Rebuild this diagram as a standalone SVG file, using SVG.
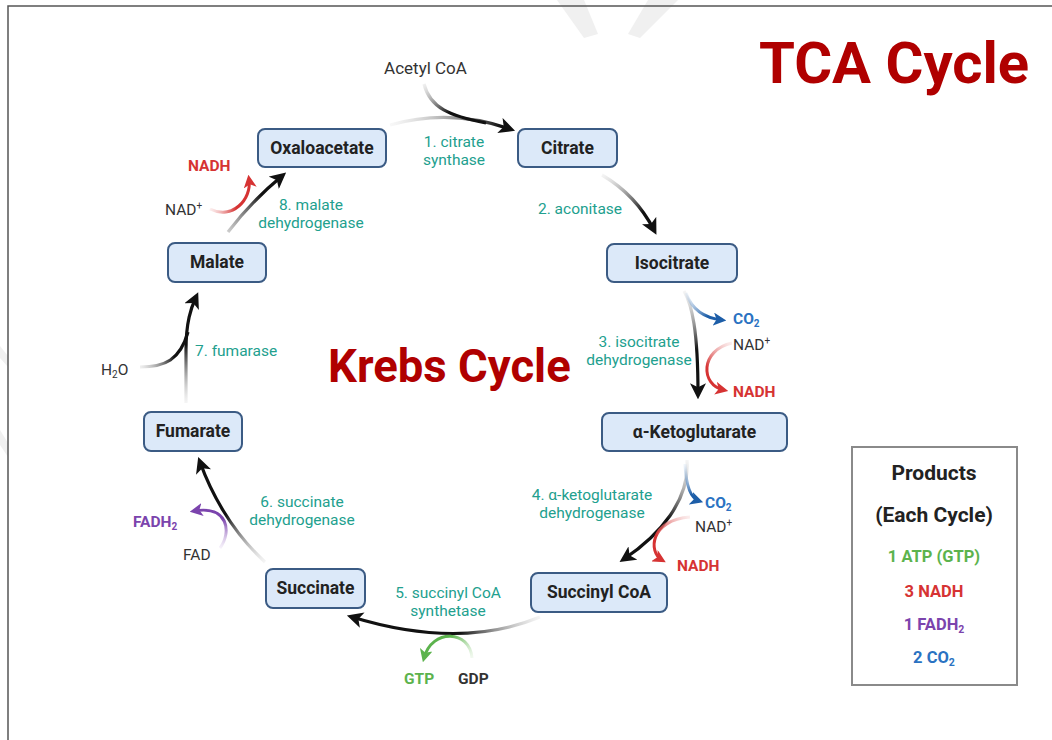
<svg xmlns="http://www.w3.org/2000/svg" width="1052" height="740" viewBox="0 0 1052 740">
<style>
text{font-family:Roboto,"Liberation Sans",sans-serif}
.node rect{fill:#dce9f9;stroke:#3b5b84;stroke-width:2}
.node text{font-size:17.5px;font-weight:bold;fill:#222;text-anchor:middle}
.enz{font-size:15.5px;fill:#22a08e;text-anchor:middle}
.enz.st{text-anchor:start}
.mol{font-size:15.5px;fill:#333}
.b{font-weight:bold}
.red{fill:#d63333}
.blue{fill:#2a72c2}
.green{fill:#5cb34d}
.purple{fill:#7b44ad}
.title{font-weight:bold;fill:#b00000}
.main{fill:none;stroke-width:3.2}
.side{fill:none;stroke-width:3}
.prod text{text-anchor:middle;font-weight:bold}
</style>
<defs>
<marker id="mk-k" markerUnits="userSpaceOnUse" viewBox="0 0 12 12" markerWidth="16" markerHeight="16" refX="8" refY="6" orient="auto"><path d="M0,0 L12,6 L0,12 L3,6 z" fill="#111"/></marker>
<marker id="mk-r" markerUnits="userSpaceOnUse" viewBox="0 0 12 12" markerWidth="13" markerHeight="13" refX="8" refY="6" orient="auto"><path d="M0,0 L12,6 L0,12 L3,6 z" fill="#d63333"/></marker>
<marker id="mk-b" markerUnits="userSpaceOnUse" viewBox="0 0 12 12" markerWidth="13" markerHeight="13" refX="8" refY="6" orient="auto"><path d="M0,0 L12,6 L0,12 L3,6 z" fill="#1d5ea8"/></marker>
<marker id="mk-g" markerUnits="userSpaceOnUse" viewBox="0 0 12 12" markerWidth="13" markerHeight="13" refX="8" refY="6" orient="auto"><path d="M0,0 L12,6 L0,12 L3,6 z" fill="#5cb34d"/></marker>
<marker id="mk-p" markerUnits="userSpaceOnUse" viewBox="0 0 12 12" markerWidth="13" markerHeight="13" refX="8" refY="6" orient="auto"><path d="M0,0 L12,6 L0,12 L3,6 z" fill="#7b44ad"/></marker>
<linearGradient id="g1" gradientUnits="userSpaceOnUse" x1="390" y1="125" x2="500" y2="128"><stop offset="0" stop-color="#ddd" stop-opacity="0.2"/><stop offset="1" stop-color="#111"/></linearGradient>
<linearGradient id="g1a" gradientUnits="userSpaceOnUse" x1="424" y1="84" x2="445" y2="115"><stop offset="0" stop-color="#ccc" stop-opacity="0.3"/><stop offset="1" stop-color="#111"/></linearGradient>
<linearGradient id="g2" gradientUnits="userSpaceOnUse" x1="602" y1="175" x2="640" y2="215"><stop offset="0" stop-color="#ddd" stop-opacity="0.3"/><stop offset="1" stop-color="#111"/></linearGradient>
<linearGradient id="g3" gradientUnits="userSpaceOnUse" x1="684" y1="291" x2="698" y2="350"><stop offset="0" stop-color="#ddd" stop-opacity="0.3"/><stop offset="1" stop-color="#111"/></linearGradient>
<linearGradient id="g3b" gradientUnits="userSpaceOnUse" x1="686" y1="293" x2="705" y2="318"><stop offset="0" stop-color="#cfe0f2" stop-opacity="0.3"/><stop offset="1" stop-color="#1d5ea8"/></linearGradient>
<linearGradient id="g3r" gradientUnits="userSpaceOnUse" x1="732" y1="343" x2="705" y2="365"><stop offset="0" stop-color="#f4c8c8" stop-opacity="0.3"/><stop offset="1" stop-color="#d63333"/></linearGradient>
<linearGradient id="g4" gradientUnits="userSpaceOnUse" x1="687" y1="460" x2="670" y2="520"><stop offset="0" stop-color="#ddd" stop-opacity="0.3"/><stop offset="1" stop-color="#111"/></linearGradient>
<linearGradient id="g4b" gradientUnits="userSpaceOnUse" x1="685" y1="464" x2="690" y2="495"><stop offset="0" stop-color="#cfe0f2" stop-opacity="0.3"/><stop offset="1" stop-color="#1d5ea8"/></linearGradient>
<linearGradient id="g4r" gradientUnits="userSpaceOnUse" x1="690" y1="517" x2="655" y2="535"><stop offset="0" stop-color="#f4c8c8" stop-opacity="0.3"/><stop offset="1" stop-color="#d63333"/></linearGradient>
<linearGradient id="g5" gradientUnits="userSpaceOnUse" x1="540" y1="617" x2="460" y2="632"><stop offset="0" stop-color="#ddd" stop-opacity="0.3"/><stop offset="1" stop-color="#111"/></linearGradient>
<linearGradient id="g5g" gradientUnits="userSpaceOnUse" x1="472" y1="658" x2="455" y2="633"><stop offset="0" stop-color="#d6eccf" stop-opacity="0.3"/><stop offset="1" stop-color="#5cb34d"/></linearGradient>
<linearGradient id="g6" gradientUnits="userSpaceOnUse" x1="265" y1="562" x2="225" y2="515"><stop offset="0" stop-color="#ddd" stop-opacity="0.3"/><stop offset="1" stop-color="#111"/></linearGradient>
<linearGradient id="g6p" gradientUnits="userSpaceOnUse" x1="220" y1="548" x2="228" y2="520"><stop offset="0" stop-color="#e2d3ef" stop-opacity="0.3"/><stop offset="1" stop-color="#7b44ad"/></linearGradient>
<linearGradient id="g7" gradientUnits="userSpaceOnUse" x1="186" y1="403" x2="186" y2="345"><stop offset="0" stop-color="#ddd" stop-opacity="0.3"/><stop offset="1" stop-color="#111"/></linearGradient>
<linearGradient id="g7h" gradientUnits="userSpaceOnUse" x1="140" y1="367" x2="175" y2="360"><stop offset="0" stop-color="#ccc" stop-opacity="0.3"/><stop offset="1" stop-color="#111"/></linearGradient>
<linearGradient id="g8" gradientUnits="userSpaceOnUse" x1="228" y1="232" x2="262" y2="195"><stop offset="0" stop-color="#999" stop-opacity="0.5"/><stop offset="1" stop-color="#111"/></linearGradient>
<linearGradient id="g8r" gradientUnits="userSpaceOnUse" x1="210" y1="209" x2="235" y2="214"><stop offset="0" stop-color="#f4c8c8" stop-opacity="0.3"/><stop offset="1" stop-color="#d63333"/></linearGradient>
</defs>
<rect x="0" y="0" width="1052" height="740" fill="#fff"/>
<g id="watermark" fill="#f0f0f0">
<polygon points="557,0 584,0 598,34 584,38"/>
<polygon points="648,0 678,0 640,38 628,34"/>
<polygon points="0,346 8,356 8,367 0,358"/>
<polygon points="0,430 8,443 8,457 0,445"/>
</g>
<g id="frame" stroke="#555" stroke-width="1.5" fill="none">
<path d="M8,740 L8,6 L1052,6"/>
</g>
<g id="titles">
<text class="title" x="759" y="83" font-size="58">TCA Cycle</text>
<text class="title" x="328" y="382" font-size="45.5">Krebs Cycle</text>
</g>
<g id="connectors">
<path class="main" stroke="url(#g1)" d="M390,125 Q450,108 510,129" marker-end="url(#mk-k)"/>
<path class="main" stroke="url(#g1a)" d="M424,84 C430,108 450,116 486,123"/>
<path class="main" stroke="url(#g2)" d="M602,175 Q636,195 654,230" marker-end="url(#mk-k)"/>
<path class="main" stroke="url(#g3)" d="M684,291 C692,305 698,330 698,394" marker-end="url(#mk-k)"/>
<path class="side" stroke="url(#g3b)" d="M686,293 C692,310 704,318 722,320" marker-end="url(#mk-b)"/>
<path class="side" stroke="url(#g3r)" d="M732,343 C700,350 700,385 724,390" marker-end="url(#mk-r)"/>
<path class="main" stroke="url(#g4)" d="M687,460 C690,500 660,535 624,559" marker-end="url(#mk-k)"/>
<path class="side" stroke="url(#g4b)" d="M685,464 C686,485 690,498 699,501" marker-end="url(#mk-b)"/>
<path class="side" stroke="url(#g4r)" d="M690,517 C650,520 648,552 662,560" marker-end="url(#mk-r)"/>
<path class="main" stroke="url(#g5)" d="M540,617 Q460,650 352,617" marker-end="url(#mk-k)"/>
<path class="side" stroke="url(#g5g)" d="M472,658 C470,630 432,628 424,658" marker-end="url(#mk-g)"/>
<path class="main" stroke="url(#g6)" d="M265,562 C230,530 210,490 200,462" marker-end="url(#mk-k)"/>
<path class="side" stroke="url(#g6p)" d="M220,548 C232,532 228,505 194,511" marker-end="url(#mk-p)"/>
<path class="main" stroke="url(#g7)" d="M186,403 L186,350 C186,322 191,308 196,297" marker-end="url(#mk-k)"/>
<path class="main" stroke="url(#g7h)" d="M140,367 C165,367 180,360 188,332"/>
<path class="main" stroke="url(#g8)" d="M228,232 C245,210 265,190 282,176" marker-end="url(#mk-k)"/>
<path class="side" stroke="url(#g8r)" d="M210,209 C232,220 252,200 249,179" marker-end="url(#mk-r)"/>
</g>
<g id="n-oxaloacetate" class="node"><rect x="258" y="129" width="128" height="38" rx="7"/><text x="322" y="154">Oxaloacetate</text></g>
<g id="n-citrate" class="node"><rect x="518" y="129" width="99" height="38" rx="7"/><text x="567.5" y="154">Citrate</text></g>
<g id="n-isocitrate" class="node"><rect x="607" y="244" width="130" height="38" rx="7"/><text x="672" y="269">Isocitrate</text></g>
<g id="n-akg" class="node"><rect x="602" y="413" width="185" height="38" rx="7"/><text x="694.5" y="438">α-Ketoglutarate</text></g>
<g id="n-succinylcoa" class="node"><rect x="531" y="573" width="136" height="39" rx="7"/><text x="599" y="598">Succinyl CoA</text></g>
<g id="n-succinate" class="node"><rect x="266" y="569" width="99" height="39" rx="7"/><text x="315.5" y="594">Succinate</text></g>
<g id="n-fumarate" class="node"><rect x="144" y="412" width="98" height="39" rx="7"/><text x="193" y="437">Fumarate</text></g>
<g id="n-malate" class="node"><rect x="168" y="243" width="98" height="39" rx="7"/><text x="217" y="268">Malate</text></g>
<g id="labels">
<text class="mol" x="425.5" y="74" text-anchor="middle" font-size="17" style="font-size:17px">Acetyl CoA</text>
<text class="enz" x="454" y="147">1. citrate</text>
<text class="enz" x="454" y="165">synthase</text>
<text class="enz" x="580" y="214">2. aconitase</text>
<text class="enz" x="639" y="347">3. isocitrate</text>
<text class="enz" x="639" y="365">dehydrogenase</text>
<text class="enz" x="592" y="500">4. α-ketoglutarate</text>
<text class="enz" x="592" y="518">dehydrogenase</text>
<text class="enz" x="448" y="598">5. succinyl CoA</text>
<text class="enz" x="448" y="616">synthetase</text>
<text class="enz" x="302" y="507">6. succinate</text>
<text class="enz" x="302" y="525">dehydrogenase</text>
<text class="enz st" x="195" y="356">7. fumarase</text>
<text class="enz" x="311" y="210">8. malate</text>
<text class="enz" x="311" y="228">dehydrogenase</text>
<text class="mol b blue" x="733" y="324">CO<tspan font-size="10" dy="3">2</tspan></text>
<text class="mol" x="733" y="350">NAD<tspan font-size="10" dy="-6">+</tspan></text>
<text class="mol b red" x="733" y="397">NADH</text>
<text class="mol b blue" x="705" y="508">CO<tspan font-size="10" dy="3">2</tspan></text>
<text class="mol" x="695" y="532">NAD<tspan font-size="10" dy="-6">+</tspan></text>
<text class="mol b red" x="677" y="571">NADH</text>
<text class="mol b green" x="404" y="684">GTP</text>
<text class="mol b" x="458" y="684" fill="#222">GDP</text>
<text class="mol b purple" x="133" y="527">FADH<tspan font-size="10" dy="3">2</tspan></text>
<text class="mol" x="183" y="560">FAD</text>
<text class="mol" x="101" y="375">H<tspan font-size="10" dy="3">2</tspan><tspan dy="-3">O</tspan></text>
<text class="mol b red" x="188" y="171">NADH</text>
<text class="mol" x="165" y="215">NAD<tspan font-size="10" dy="-6">+</tspan></text>
</g>
<g id="products" class="prod">
<rect x="852" y="447" width="165" height="238" fill="#fff" stroke="#8a8a8a" stroke-width="2"/>
<text x="934" y="480" font-size="21" fill="#222">Products</text>
<text x="934" y="522" font-size="21" fill="#222">(Each Cycle)</text>
<text x="934" y="562" font-size="16.5" class="green">1 ATP (GTP)</text>
<text x="934" y="597" font-size="16.5" class="red">3 NADH</text>
<text x="934" y="630" font-size="16.5" class="purple">1 FADH<tspan font-size="10.5" dy="3">2</tspan></text>
<text x="934" y="663" font-size="16.5" class="blue">2 CO<tspan font-size="10.5" dy="3">2</tspan></text>
</g>
</svg>
